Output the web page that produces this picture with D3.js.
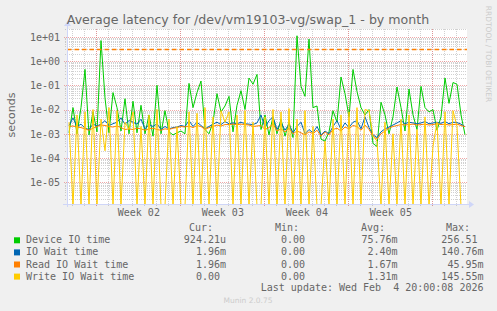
<!DOCTYPE html>
<html lang="en">
<head>
  <meta charset="UTF-8">
  <title>Average latency by month</title>
  <style>
    html,
    body {
      margin: 0;
      padding: 0;
      background: #F0F0F0;
    }

    svg {
      display: block;
    }

    text {
      fill: #666666;
    }

    .mono {
      font-family: "DejaVu Sans Mono", monospace;
      font-size: 10px;
    }
  </style>
</head>
<body>
  <svg class="chart"></svg>

  <script src="https://cdnjs.cloudflare.com/ajax/libs/d3/7.8.5/d3.min.js"></script>
  <script>
    // values in milliseconds, one every 8 hours
    const deviceIO = [
      1.1, 12, 1.0, 12, 450, 0.9, 8, 1.2, 7000, 30,
      1.1, 50, 12, 1.3, 28, 1.0, 22, 1.1, 15, 1.0,
      6, 0.8, 100, 1.0, 9, 1.2, 0.9, 1.1, 1.3, 1.0,
      120, 12, 50, 150, 1.5, 1.0, 3, 45, 8, 14,
      35, 1.2, 15, 60, 10, 200, 110, 280, 1.5, 6,
      0.9, 5, 1.0, 4, 0.8, 3, 0.7, 11000, 90, 35,
      8000, 12, 14, 0.6, 0.5, 1.2, 9, 3, 220, 45,
      5, 450, 55, 12, 6, 10, 0.4, 0.3, 20, 6,
      1.0, 5, 85, 12, 1.3, 70, 6, 1.5, 90, 12,
      8, 10, 1.4, 5, 200, 18, 130, 110, 6, 0.92
    ];
    const ioWait = [
      2.2, 4.5, 2.0, 2.5, 1.7, 1.5, 2.5, 2.1, 2.5, 3.5,
      2.2, 2.6, 3.0, 4.5, 2.5, 3.5, 3.0, 2.5, 4.0, 1.6,
      2.4, 2.0, 2.6, 1.5, 2.0, 1.6, 1.8, 1.9, 2.2, 2.0,
      3.5, 2.0, 3.0, 2.2, 1.6, 2.0, 2.5, 3.0, 2.4, 3.2,
      2.6, 2.8, 2.6, 3.0, 2.6, 2.5, 2.4, 2.8, 6.0, 1.8,
      3.5, 5.0, 1.5, 3.0, 1.4, 2.5, 1.1, 2.0, 3.0, 1.0,
      1.5, 1.1, 2.0, 0.9, 1.3, 1.0, 2.0, 3.5, 1.5, 2.8,
      1.8, 3.0, 3.5, 1.6, 5.0, 1.8, 0.9, 0.7, 1.2, 1.6,
      1.9, 2.3, 2.8, 3.5, 2.6, 3.0, 2.8, 2.6, 2.8, 3.2,
      2.6, 2.8, 3.0, 2.7, 3.2, 2.6, 3.0, 2.9, 2.5, 1.96
    ];
    const readWait = [
      2.0, 2.1, 1.9, 1.8, 1.6, 1.4, 1.7, 2.0, 2.3, 2.2,
      2.0, 1.9, 2.1, 1.8, 1.5, 1.6, 1.5, 1.7, 1.6, 1.4,
      1.6, 1.7, 1.5, 1.4, 1.6, 1.5, 1.7, 1.8, 2.0, 1.9,
      2.1, 1.8, 2.2, 2.0, 1.5, 1.8, 2.0, 2.3, 2.1, 2.4,
      2.4, 2.5, 2.4, 2.5, 2.4, 2.3, 2.0, 2.1, 2.2, 1.5,
      1.8, 2.6, 1.3, 1.6, 1.2, 1.7, 1.0, 1.3, 1.1, 0.9,
      1.2, 1.0, 1.4, 0.8, 1.2, 0.9, 1.5, 1.7, 1.3, 1.9,
      1.6, 2.2, 2.0, 1.4, 2.3, 1.5, 0.8, 0.6, 1.0, 1.3,
      1.7, 2.0, 2.2, 2.4, 2.3, 2.4, 2.5, 2.3, 2.4, 2.5,
      2.3, 2.4, 2.6, 2.4, 2.5, 2.3, 2.4, 2.5, 2.2, 1.96
    ];
    const writeWait = [
      3, 0, 6, 0, 8, 0, 10, 0, 4, 0.2,
      12, 0, 9, 0, 3, 1.5, 8, 0, 2, 0,
      6, 0, 10, 0, 0, 4, 0, 2, 0, 0,
      8, 0, 7, 0, 12, 0, 5, 0, 9, 3,
      8, 0, 6, 0, 9, 0, 3, 0, 0, 5,
      0, 10, 0, 8, 0, 11, 0, 4, 0, 9,
      0, 2, 0, 0, 0.5, 0, 4, 0, 6, 0,
      8, 0, 12, 0, 10, 9, 0.8, 0.5, 0, 3,
      0, 1, 0, 4, 0, 6, 0, 1.5, 0, 5,
      0, 0.3, 3, 0, 8, 0, 9, 2, 0, 0
    ];
    const warnLevel = 3; // seconds

    const yTickLabels = ["1e-05", "1e-04", "1e-03", "1e-02", "1e-01", "1e+00", "1e+01"];
    const weekLabels = ["Week 02", "Week 03", "Week 04", "Week 05"];

    const seriesNames = ["Device IO time", "IO Wait time", "Read IO Wait time", "Write IO Wait time"];
    const seriesColors = ["#00CC00", "#0066B3", "#FF8000", "#FFCC00"];
    const curText = ["924.21u", "1.96m", "1.96m", "0.00 "];
    const minText = ["0.00 ", "0.00 ", "0.00 ", "0.00 "];
    const avgText = ["75.76m", "2.40m", "1.67m", "1.31m"];
    const maxText = ["256.51 ", "140.76m", "45.95m", "145.55m"];

    const title = "Average latency for /dev/vm19103-vg/swap_1 - by month";
    const lastUpdate = "Last update: Wed Feb  4 20:00:08 2026";

    (function (d3) {
      let svgWidth = 497,
        svgHeight = 311,
        left = 67, right = 467, top = 29, bottom = 204,
        svg = d3.select("svg.chart"),
        tEnd = new Date(2026, 1, 4, 21, 20),
        tStart = new Date(+tEnd - 800 * 3600 * 1000), // 400 px, 2h per px
        n = deviceIO.length,
        times = d3.range(n).map(i => new Date(+tStart + (i + 0.5) * (tEnd - tStart) / n));

      svg.attr("width", svgWidth).attr("height", svgHeight);

      let x = d3.scaleTime().domain([tStart, tEnd]).range([left, right]);
      let y = d3.scaleLog().domain([Math.pow(10, -5.895), Math.pow(10, 1.321)]).range([bottom, top]);

      // canvas
      svg.append("rect")
        .attr("x", left).attr("y", top)
        .attr("width", right - left).attr("height", bottom - top)
        .attr("fill", "#FFFFFF");

      svg.append("clipPath").attr("id", "plot")
        .append("rect")
        .attr("x", left).attr("y", top)
        .attr("width", right - left).attr("height", bottom - top);

      let grid = svg.append("g").attr("class", "grid");

      // horizontal grid (log, 2..9 minor, decades major)
      let yTicks = y.ticks();
      let isDecade = v => Math.abs(Math.log10(v) - Math.round(Math.log10(v))) < 1e-9;
      grid.selectAll("line.hmin")
        .data(yTicks.filter(v => !isDecade(v)))
        .enter().append("line")
        .attr("x1", left - 2).attr("x2", right)
        .attr("y1", d => Math.round(y(d)) + 0.5).attr("y2", d => Math.round(y(d)) + 0.5)
        .attr("stroke", "rgba(140,140,140,0.4)")
        .attr("stroke-dasharray", "1,1");

      // vertical grid: days minor
      let days = x.ticks(d3.timeDay.every(1));
      grid.selectAll("line.vmin")
        .data(days)
        .enter().append("line")
        .attr("x1", d => Math.round(x(d)) + 0.5).attr("x2", d => Math.round(x(d)) + 0.5)
        .attr("y1", top).attr("y2", bottom + 2)
        .attr("stroke", "rgba(140,140,140,0.4)")
        .attr("stroke-dasharray", "1,1");

      let decades = yTicks.filter(isDecade);
      grid.selectAll("line.hmaj")
        .data(decades)
        .enter().append("line")
        .attr("x1", left - 3).attr("x2", right)
        .attr("y1", d => Math.round(y(d)) + 0.5).attr("y2", d => Math.round(y(d)) + 0.5)
        .attr("stroke", "rgba(230,110,110,0.6)")
        .attr("stroke-dasharray", "1,1");

      let weeks = x.ticks(d3.timeMonday.every(1));
      grid.selectAll("line.vmaj")
        .data(weeks)
        .enter().append("line")
        .attr("x1", d => Math.round(x(d)) + 0.5).attr("x2", d => Math.round(x(d)) + 0.5)
        .attr("y1", top).attr("y2", bottom + 3)
        .attr("stroke", "rgba(230,110,110,0.6)")
        .attr("stroke-dasharray", "1,1");

      // series
      let plot = svg.append("g").attr("clip-path", "url(#plot)");
      let yv = v => v > 0 ? y(v / 1000) : bottom + 2;
      let line = d3.line()
        .x((d, i) => x(times[i]))
        .y(d => yv(d));

      [deviceIO, ioWait, readWait, writeWait].forEach((s, k) => {
        plot.append("path")
          .datum(s)
          .attr("d", line)
          .attr("fill", "none")
          .attr("stroke", seriesColors[k])
          .attr("stroke-width", 1);
      });

      // warning rule
      plot.append("line")
        .attr("x1", left).attr("x2", right)
        .attr("y1", Math.round(y(warnLevel)) + 0.5).attr("y2", Math.round(y(warnLevel)) + 0.5)
        .attr("stroke", "#FF8000")
        .attr("stroke-width", 1.3)
        .attr("stroke-dasharray", "4.5,3");

      // axes lines + arrows
      let axisColor = "#CFD6F8";
      svg.append("line")
        .attr("x1", left - 4).attr("x2", right + 3)
        .attr("y1", bottom + 0.5).attr("y2", bottom + 0.5)
        .attr("stroke", axisColor);
      svg.append("line")
        .attr("x1", left + 0.5).attr("x2", left + 0.5)
        .attr("y1", bottom + 3).attr("y2", top - 4)
        .attr("stroke", axisColor);
      svg.append("path")
        .attr("d", `M${right + 2},${bottom - 3} L${right + 7},${bottom + 0.5} L${right + 2},${bottom + 4} Z`)
        .attr("fill", axisColor);
      svg.append("path")
        .attr("d", `M${left - 3},${top - 3} L${left + 0.5},${top - 8} L${left + 4},${top - 3} Z`)
        .attr("fill", axisColor);

      // x axis labels (centred mid-week)
      let weekMid = weeks.map(d => d3.timeHour.offset(d, 84)).filter(d => d < tEnd);
      let xAxis = svg.append("g")
        .attr("transform", `translate(0,${bottom})`)
        .call(d3.axisBottom(x).tickValues(weekMid).tickSize(0)
          .tickFormat((d, i) => weekLabels[i]));
      xAxis.select(".domain").remove();
      xAxis.selectAll("text")
        .attr("class", "mono")
        .attr("dy", null)
        .attr("y", 12)
        .attr("fill", "#666666");

      // y axis labels
      let yAxis = svg.append("g")
        .attr("transform", "translate(60,0)")
        .call(d3.axisLeft(y).tickValues(decades).tickSize(0).tickPadding(0)
          .tickFormat((d, i) => yTickLabels[i]));
      yAxis.select(".domain").remove();
      yAxis.selectAll("text")
        .attr("class", "mono")
        .attr("dy", "0.34em")
        .attr("fill", "#666666");

      // titles
      svg.append("text")
        .text(title)
        .attr("x", 248).attr("y", 24)
        .attr("text-anchor", "middle")
        .style("font-family", "'DejaVu Sans'")
        .style("font-size", "12.6px");

      svg.append("text")
        .text("seconds")
        .attr("transform", "translate(15,115) rotate(-90)")
        .attr("text-anchor", "middle")
        .style("font-family", "'DejaVu Sans'")
        .style("font-size", "11px");

      svg.append("text")
        .text("RRDTOOL / TOBI OETIKER")
        .attr("transform", "translate(486,54) rotate(90)")
        .attr("text-anchor", "middle")
        .style("font-family", "'DejaVu Sans'")
        .style("font-size", "7.5px")
        .style("fill", "#CCCCCC");

      // legend
      let legend = svg.append("g").attr("class", "legend");
      let headers = [["Cur:", 213], ["Min:", 299], ["Avg:", 385], ["Max:", 470]];
      legend.selectAll("text.head")
        .data(headers)
        .enter().append("text")
        .attr("class", "mono")
        .attr("x", d => d[1]).attr("y", 231)
        .attr("text-anchor", "end")
        .style("white-space", "pre")
        .text(d => d[0]);

      let rows = legend.selectAll("g.row")
        .data(seriesNames)
        .enter().append("g")
        .attr("transform", (d, i) => `translate(0,${243.3 + 12.1 * i})`);

      rows.append("rect")
        .attr("x", 14).attr("y", -6)
        .attr("width", 6).attr("height", 6)
        .attr("fill", (d, i) => seriesColors[i]);
      rows.append("text")
        .attr("class", "mono")
        .attr("x", 26)
        .text(d => d);

      [[curText, 226], [minText, 311], [avgText, 397.5], [maxText, 483.5]].forEach(col => {
        rows.append("text")
          .attr("class", "mono")
          .attr("x", col[1])
          .attr("text-anchor", "end")
          .style("white-space", "pre")
          .text((d, i) => col[0][i]);
      });

      svg.append("text")
        .attr("class", "mono")
        .attr("x", 483.5).attr("y", 291.3)
        .attr("text-anchor", "end")
        .style("white-space", "pre")
        .text(lastUpdate);

      svg.append("text")
        .text("Munin 2.0.75")
        .attr("x", 248).attr("y", 302.5)
        .attr("text-anchor", "middle")
        .style("font-family", "'DejaVu Sans'")
        .style("font-size", "7.5px")
        .style("fill", "#CCCCCC");
    })(d3);
  </script>
</body>
</html>
